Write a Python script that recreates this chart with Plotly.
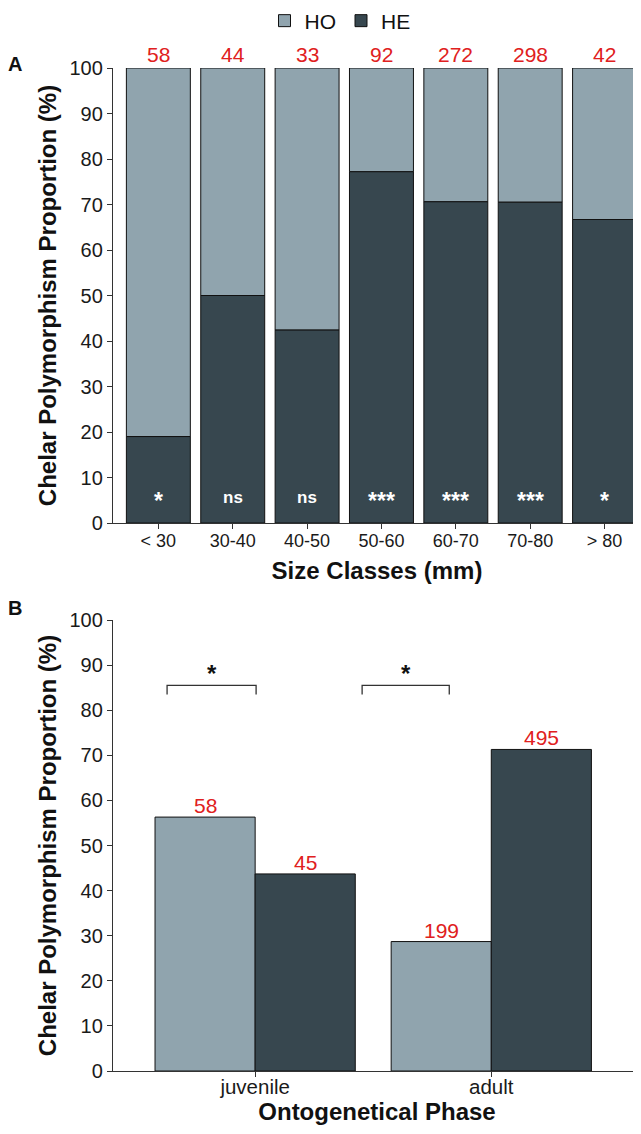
import plotly.graph_objects as go
from plotly.subplots import make_subplots

# ---------------- data ----------------
size_classes = ["< 30", "30-40", "40-50", "50-60", "60-70", "70-80", "> 80"]
he_pct_size = [19.0, 50.0, 42.4, 77.2, 70.6, 70.5, 66.7]
ho_pct_size = [81.0, 50.0, 57.6, 22.8, 29.4, 29.5, 33.3]
n_size = [58, 44, 33, 92, 272, 298, 42]
sig_size = ["*", "ns", "ns", "***", "***", "***", "*"]

phases = ["juvenile", "adult"]
ho_pct_phase = [56.3, 28.7]
he_pct_phase = [43.7, 71.3]
ho_n_phase = [58, 199]
he_n_phase = [45, 495]
sig_phase = ["*", "*"]
bracket_left = [-0.373, -0.547]
bracket_right = [0.004, -0.178]
bracket_y = 85.5
bracket_tip = 83.5

y_ticks = [0, 10, 20, 30, 40, 50, 60, 70, 80, 90, 100]

# ---------------- styles ----------------
HO_COL = "#90a4ae"
HE_COL = "#37474f"
RED = "#e02020"
FONT = "Liberation Sans, Arial, sans-serif"
AX = "#333333"

OFF = 8  # default page body margin
W, H = 641 - OFF, 1134 - OFF
L, R, T, B = 113 - OFF, 0, 68 - OFF, 63
ph = H - T - B
pw = W - L - R
top_dom = [(1071 - 523) / ph, 1.0]
bot_dom = [0.0, (1071 - 620) / ph]


def px_x(x):  # reference page pixel -> paper x
    return (x - OFF - L) / pw


def px_y(y):  # reference page pixel -> paper y
    return 1 - (y - OFF - T) / ph


fig = make_subplots(rows=2, cols=1)

xs_top = list(range(len(size_classes)))
xs_bot = list(range(len(phases)))

# top: stacked (HE bottom, HO on top)
fig.add_trace(go.Bar(x=xs_top, y=ho_pct_size, base=he_pct_size, name="HO",
                     marker=dict(color=HO_COL, line=dict(color="#111", width=1)),
                     width=0.86, legendgroup="HO", hoverinfo="skip"), row=1, col=1)
fig.add_trace(go.Bar(x=xs_top, y=he_pct_size, name="HE",
                     marker=dict(color=HE_COL, line=dict(color="#111", width=1)),
                     width=0.86, legendgroup="HE", hoverinfo="skip"), row=1, col=1)

# bottom: dodged
fig.add_trace(go.Bar(x=xs_bot, y=ho_pct_phase, name="HO", showlegend=False,
                     marker=dict(color=HO_COL, line=dict(color="#111", width=1)),
                     width=0.424, offset=-0.424, legendgroup="HO", hoverinfo="skip"), row=2, col=1)
fig.add_trace(go.Bar(x=xs_bot, y=he_pct_phase, name="HE", showlegend=False,
                     marker=dict(color=HE_COL, line=dict(color="#111", width=1)),
                     width=0.424, offset=0.0, legendgroup="HE", hoverinfo="skip"), row=2, col=1)

# brackets
for i in range(len(phases)):
    xl = xs_bot[i] + bracket_left[i]
    xr = xs_bot[i] + bracket_right[i]
    fig.add_trace(go.Scatter(x=[xl, xl, xr, xr], y=[bracket_tip, bracket_y, bracket_y, bracket_tip],
                             mode="lines", line=dict(color=AX, width=1.3),
                             showlegend=False, hoverinfo="skip"), row=2, col=1)
    fig.add_annotation(x=(xl + xr) / 2, y=bracket_y, text=sig_phase[i], showarrow=False,
                       yanchor="bottom", yshift=-4, xref="x2", yref="y2",
                       font=dict(family=FONT, size=24, color="#111", weight="bold"))

# count labels
for i, n in enumerate(n_size):
    fig.add_annotation(x=xs_top[i], y=100, text=str(n), showarrow=False, yanchor="bottom",
                       xref="x", yref="y", yshift=0,
                       font=dict(family=FONT, size=21, color=RED))
    is_star = sig_size[i].startswith("*")
    fig.add_annotation(x=xs_top[i], y=5.7, text=sig_size[i], showarrow=False,
                       xref="x", yref="y", yshift=-4 if is_star else 0,
                       font=dict(family=FONT, size=23 if is_star else 17,
                                 color="white", weight="bold"))

for i in range(len(phases)):
    fig.add_annotation(x=xs_bot[i] - 0.212, y=ho_pct_phase[i], text=str(ho_n_phase[i]),
                       showarrow=False, yanchor="bottom", xref="x2", yref="y2", yshift=-2,
                       font=dict(family=FONT, size=21, color=RED))
    fig.add_annotation(x=xs_bot[i] + 0.212, y=he_pct_phase[i], text=str(he_n_phase[i]),
                       showarrow=False, yanchor="bottom", xref="x2", yref="y2", yshift=-2,
                       font=dict(family=FONT, size=21, color=RED))

# panel letters
fig.add_annotation(x=px_x(15), y=px_y(64), xref="paper", yref="paper",
                   text="A", showarrow=False, xanchor="center", yanchor="middle",
                   font=dict(family=FONT, size=20, color="#111", weight="bold"))
fig.add_annotation(x=px_x(15), y=px_y(608), xref="paper", yref="paper",
                   text="B", showarrow=False, xanchor="center", yanchor="middle",
                   font=dict(family=FONT, size=20, color="#111", weight="bold"))

axis_common = dict(showline=True, linecolor=AX, linewidth=1.3, ticks="outside", ticklen=5,
                   tickcolor=AX, tickwidth=1.2, showgrid=False, zeroline=False,
                   automargin=False)

fig.update_xaxes(**axis_common, row=1, col=1, range=[-0.61, 6.49], tickvals=xs_top,
                 ticktext=size_classes, domain=[0, 1], ticklabelstandoff=-4,
                 tickfont=dict(family=FONT, size=18, color="#1a1a1a"),
                 title=dict(text="Size Classes (mm)", standoff=12,
                            font=dict(family=FONT, size=24, color="#111", weight="bold")))
fig.update_xaxes(**axis_common, row=2, col=1, range=[-0.602, 1.634], tickvals=xs_bot,
                 ticktext=phases, domain=[0, 1], ticklabelstandoff=-8,
                 tickfont=dict(family=FONT, size=20.5, color="#1a1a1a"),
                 title=dict(text="Ontogenetical Phase", standoff=5,
                            font=dict(family=FONT, size=24, color="#111", weight="bold")))
ytitle = dict(text="Chelar Polymorphism Proportion (%)", standoff=6,
              font=dict(family=FONT, size=24, color="#111", weight="bold"))
fig.update_yaxes(**axis_common, row=1, col=1, range=[0, 100], tickvals=y_ticks,
                 domain=top_dom, title=ytitle,
                 tickfont=dict(family=FONT, size=20, color="#1a1a1a"))
fig.update_yaxes(**axis_common, row=2, col=1, range=[0, 100], tickvals=y_ticks,
                 domain=bot_dom, title=ytitle,
                 tickfont=dict(family=FONT, size=20, color="#1a1a1a"))

fig.update_layout(
    width=W, height=H, barmode="overlay",
    margin=dict(l=L, r=R, t=T, b=B, autoexpand=False),
    plot_bgcolor="white", paper_bgcolor="white",
    legend=dict(orientation="h", x=px_x(340), xanchor="center",
                y=px_y(21), yanchor="middle",
                font=dict(family=FONT, size=21, color="#111"), itemwidth=30,
                traceorder="normal"),
    font=dict(family=FONT),
)

fig.write_html("out.html")
